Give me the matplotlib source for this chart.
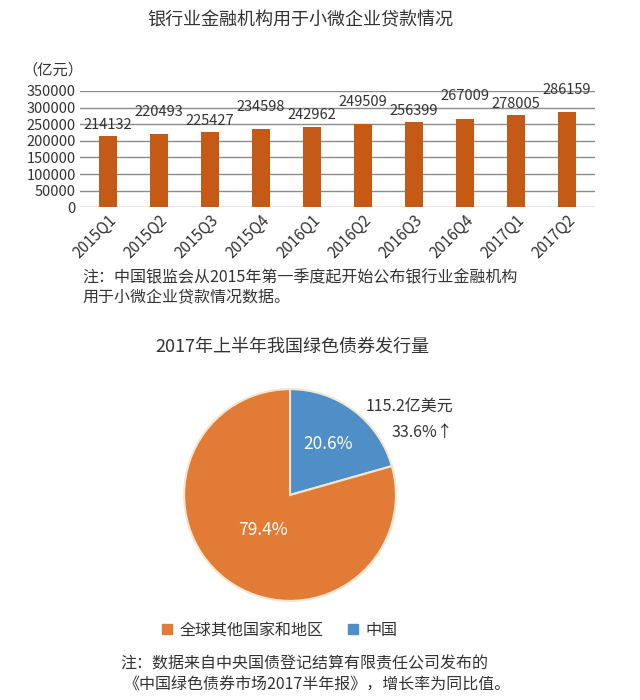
import numpy as np
import matplotlib
matplotlib.use("Agg")
import matplotlib.pyplot as plt
from matplotlib.patches import Patch

plt.rcParams['font.family'] = ['Noto Sans CJK SC', 'DejaVu Sans']

# bar chart data
quarters = ['2015Q1', '2015Q2', '2015Q3', '2015Q4', '2016Q1',
            '2016Q2', '2016Q3', '2016Q4', '2017Q1', '2017Q2']
loans = [214132, 220493, 225427, 234598, 242962,
         249509, 256399, 267009, 278005, 286159]

# pie chart data
pie_labels = ['中国', '全球其他国家和地区']
pie_shares = [20.6, 79.4]

BAR_COLOR = '#C55A17'
PIE_COLORS = ['#4F8EC6', '#E27B35']
TXT = '#333333'

fig = plt.figure(figsize=(6.4, 7), dpi=100)

# ---------- bar chart ----------
ax = fig.add_axes([0.125, 0.704, 0.805, 0.166])
x = np.arange(len(quarters))
bars = ax.bar(x, loans, width=0.34, color=BAR_COLOR, zorder=3)
ax.set_ylim(0, 350000)
ax.set_xlim(-0.55, len(quarters) - 0.45)
ax.set_yticks(np.arange(0, 350001, 50000))
ax.grid(axis='y', color='#8c8c8c', lw=1, zorder=0)
for s in ax.spines.values():
    s.set_visible(False)
ax.tick_params(length=0, labelsize=10.5, colors=TXT, pad=3)
ax.tick_params(axis='x', labelsize=11)
ax.set_xticks(x)
ax.set_xticklabels(quarters, rotation=45, ha='right', va='top',
                   rotation_mode='anchor')

for i, (b, v) in enumerate(zip(bars, loans)):
    off = 8 if i % 2 == 0 else 16
    ax.annotate(str(v), (b.get_x() + b.get_width() / 2, v),
                xytext=(0, off), textcoords='offset points',
                ha='center', va='center', fontsize=10.5, color=TXT)

fig.text(300 / 640, 1 - 20 / 700, '银行业金融机构用于小微企业贷款情况',
         ha='center', va='center', fontsize=13, color=TXT)
fig.text(22 / 640, 1 - 70 / 700, '（亿元）', ha='left', va='center',
         fontsize=11, color=TXT)
fig.text(82 / 640, 1 - 278 / 700,
         '注：中国银监会从2015年第一季度起开始公布银行业金融机构',
         ha='left', va='center', fontsize=11.5, color=TXT)
fig.text(82 / 640, 1 - 298 / 700, '用于小微企业贷款情况数据。',
         ha='left', va='center', fontsize=11.5, color=TXT)

# ---------- pie chart ----------
fig.text(292 / 640, 1 - 347 / 700, '2017年上半年我国绿色债券发行量',
         ha='center', va='center', fontsize=13, color=TXT)

pax = fig.add_axes([182 / 640, 1 - 603 / 700, 216 / 640, 216 / 700])
wedges, _ = pax.pie(pie_shares, colors=PIE_COLORS, startangle=90,
                    counterclock=False,
                    wedgeprops=dict(edgecolor='#F2E6D0', linewidth=1.5))
pax.set_xlim(-1.02, 1.02)
pax.set_ylim(-1.02, 1.02)
pax.set_aspect('equal')
pax.axis('off')

label_dist = [0.6, 0.42]
for w, share, d in zip(wedges, pie_shares, label_dist):
    ang = np.deg2rad((w.theta1 + w.theta2) / 2)
    pax.text(d * np.cos(ang), d * np.sin(ang), f'{share}%',
             ha='center', va='center', fontsize=12.5, color='white')

fig.text(453 / 640, 1 - 406 / 700, '115.2亿美元', ha='right', va='center',
         fontsize=11.5, color=TXT)
fig.text(453 / 640, 1 - 433 / 700, '33.6%↑', ha='right', va='center',
         fontsize=11.5, color=TXT)

handles = [Patch(color=PIE_COLORS[1]), Patch(color=PIE_COLORS[0])]
fig.legend(handles, [pie_labels[1], pie_labels[0]], loc='center',
           bbox_to_anchor=(280 / 640, 1 - 630 / 700), ncol=2, frameon=False,
           fontsize=11.5, handlelength=0.6, handleheight=0.6,
           handletextpad=0.5, columnspacing=1.5, labelcolor=TXT)

fig.text(120 / 640, 1 - 664 / 700,
         '注：数据来自中央国债登记结算有限责任公司发布的',
         ha='left', va='center', fontsize=11.5, color=TXT)
fig.text(124 / 640, 1 - 685 / 700,
         '《中国绿色债券市场2017半年报》，增长率为同比值。',
         ha='left', va='center', fontsize=11.5, color=TXT)

fig.savefig('out.png', dpi=100, facecolor='white')
